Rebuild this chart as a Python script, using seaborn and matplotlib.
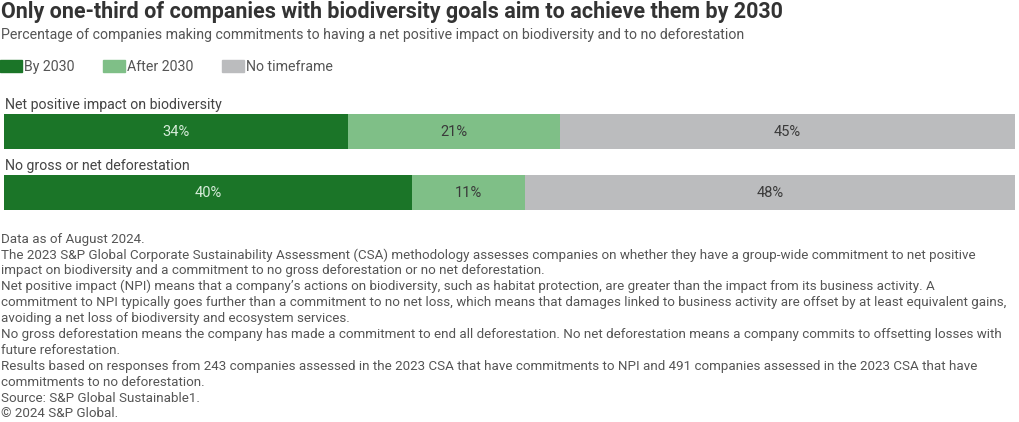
import numpy as np
import pandas as pd
import matplotlib
matplotlib.use("Agg")
import matplotlib.pyplot as plt
import matplotlib.patches as mpatches
import seaborn as sns

# data
categories = ["Net positive impact on biodiversity", "No gross or net deforestation"]
by_2030 = [34, 40]
after_2030 = [21, 11]
no_timeframe = [45, 48]
series_names = ["By 2030", "After 2030", "No timeframe"]
colors = ["#1b7528", "#7fbf87", "#bbbcbe"]
label_colors = ["#d6ecd9", "#3a3a3a", "#3a3a3a"]

title = "Only one-third of companies with biodiversity goals aim to achieve them by 2030"
subtitle = ("Percentage of companies making commitments to having a net positive impact "
            "on biodiversity and to no deforestation")
footnotes = [
    "Data as of August 2024.",
    "The 2023 S&P Global Corporate Sustainability Assessment (CSA) methodology assesses companies on whether they have a group-wide commitment to net positive",
    "impact on biodiversity and a commitment to no gross deforestation or no net deforestation.",
    "Net positive impact (NPI) means that a company\u2019s actions on biodiversity, such as habitat protection, are greater than the impact from its business activity. A",
    "commitment to NPI typically goes further than a commitment to no net loss, which means that damages linked to business activity are offset by at least equivalent gains,",
    "avoiding a net loss of biodiversity and ecosystem services.",
    "No gross deforestation means the company has made a commitment to end all deforestation. No net deforestation means a company commits to offsetting losses with",
    "future reforestation.",
    "Results based on responses from 243 companies assessed in the 2023 CSA that have commitments to NPI and 491 companies assessed in the 2023 CSA that have",
    "commitments to no deforestation.",
    "Source: S&P Global Sustainable1.",
    "\u00a9 2024 S&P Global.",
]

sns.set_theme(style="white")
plt.rcParams["font.family"] = ["Roboto", "DejaVu Sans"]

df = pd.DataFrame({"category": categories, "By 2030": by_2030,
                   "After 2030": after_2030, "No timeframe": no_timeframe})
# bars fill the full width: shares are scaled to each row's total
shares = df[series_names].div(df[series_names].sum(axis=1), axis=0) * 100
cum = shares.cumsum(axis=1)

fig = plt.figure(figsize=(10.2, 4.22), dpi=100)
W, H = 1020, 422
ax = fig.add_axes([4 / W, (H - 223) / H, 1011 / W, 122 / H])

# stacked bars: draw cumulative totals from the largest down
for name, col in reversed(list(zip(series_names, colors))):
    sns.barplot(x=cum[name], y=df["category"], color=col, orient="h",
                width=0.574, ax=ax, saturation=1, linewidth=0)

# value labels
for i in range(len(categories)):
    left = 0
    for name, lc in zip(series_names, label_colors):
        v = shares.loc[i, name]
        ax.text(left + v / 2, i, f"{df.loc[i, name]}%", ha="center", va="center",
                fontsize=10.5, color=lc)
        left += v
    ax.text(0.1, i - 0.44, categories[i], ha="left", va="center",
            fontsize=10.2, color="#444444")

ax.set_xlim(0, 100)
ax.set_ylim(1.5, -0.5)
ax.set_xlabel("")
ax.set_ylabel("")
ax.set_xticks([])
ax.set_yticks([])
sns.despine(ax=ax, left=True, bottom=True)

# title, subtitle
fig.text(1 / W, 1 - 12 / H, title, fontsize=15.5, fontweight="bold",
         color="#333333", va="center", ha="left")
fig.text(1 / W, 1 - 35 / H, subtitle, fontsize=10.2, color="#555555",
         va="center", ha="left")

# legend
handles = [mpatches.Patch(color=c, label=n) for n, c in zip(series_names, colors)]
fig.legend(handles=handles, loc="center left", bbox_to_anchor=(0, 1 - 67 / H),
           ncol=3, frameon=False, fontsize=10.2, handlelength=1.55, handleheight=0.85,
           handletextpad=0.15, columnspacing=2.0, borderpad=0, borderaxespad=0,
           labelcolor="#555555")

# footnotes
for k, line in enumerate(footnotes):
    fig.text(1 / W, 1 - (239 + k * 15.9) / H, line, fontsize=9.6, color="#555555",
             va="center", ha="left")

fig.savefig("out.png", dpi=100)
